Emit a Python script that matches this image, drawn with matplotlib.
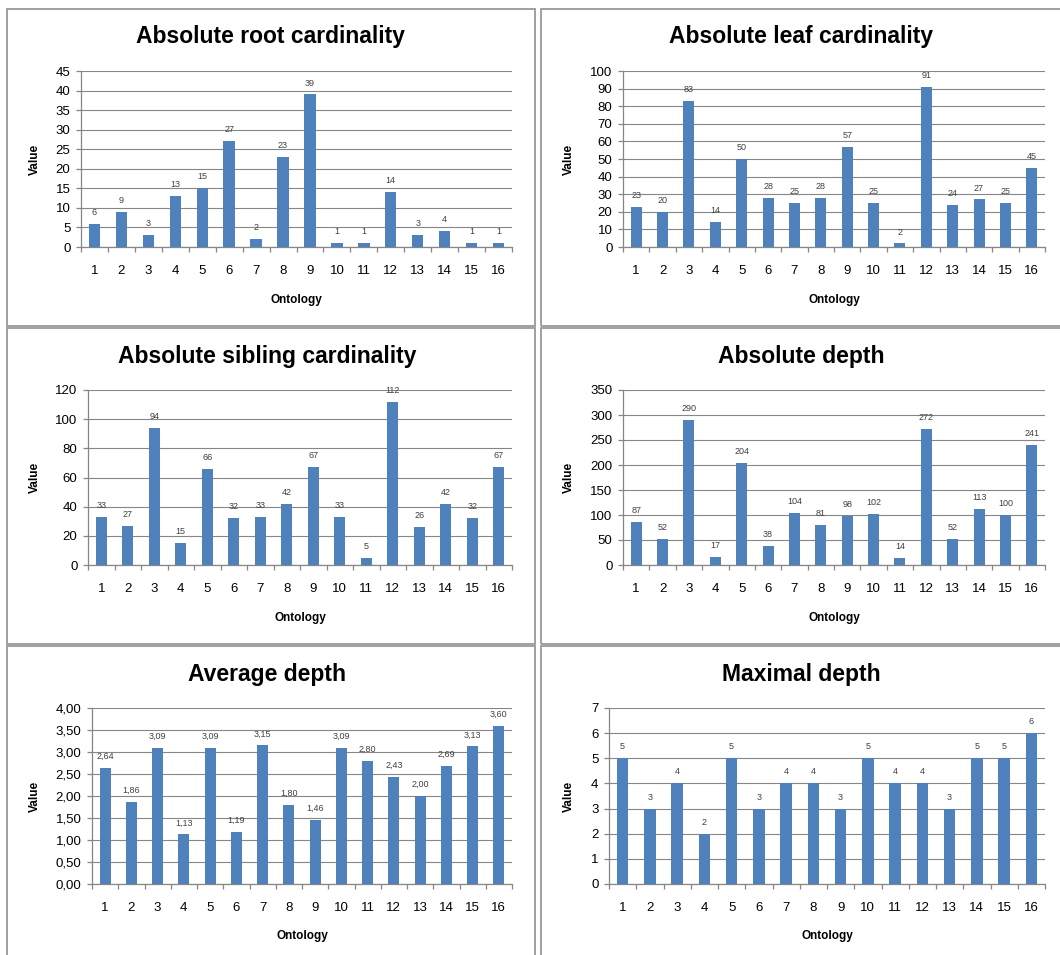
import numpy as np
import matplotlib
matplotlib.use("Agg")
import matplotlib.pyplot as plt
from matplotlib.patches import Rectangle
from matplotlib.ticker import FuncFormatter, MultipleLocator

plt.rcParams['font.family'] = ['Liberation Sans', 'DejaVu Sans']

ontology = np.arange(1, 17)

root_card = [6, 9, 3, 13, 15, 27, 2, 23, 39, 1, 1, 14, 3, 4, 1, 1]
leaf_card = [23, 20, 83, 14, 50, 28, 25, 28, 57, 25, 2, 91, 24, 27, 25, 45]
sibling_card = [33, 27, 94, 15, 66, 32, 33, 42, 67, 33, 5, 112, 26, 42, 32, 67]
abs_depth = [87, 52, 290, 17, 204, 38, 104, 81, 98, 102, 14, 272, 52, 113, 100, 241]
avg_depth = [2.64, 1.86, 3.09, 1.13, 3.09, 1.19, 3.15, 1.80, 1.46, 3.09, 2.80, 2.43,
             2.00, 2.69, 3.13, 3.60]
max_depth = [5, 3, 4, 2, 5, 3, 4, 4, 3, 5, 4, 4, 3, 5, 5, 6]

W, H = 1060, 955
BAR = '#4F81BD'
GRID = '#868686'

fig = plt.figure(figsize=(W / 100, H / 100), dpi=100)


def px_axes(x0, x1, y0, y1):
    return fig.add_axes([x0 / W, 1 - y1 / H, (x1 - x0) / W, (y1 - y0) / H])


def comma2(v, _=None):
    return f"{v:.2f}".replace('.', ',')


# panel frames
for (x0, x1, y0, y1) in [(7, 535, 9, 326), (541, 1075, 9, 326),
                         (7, 535, 328, 644), (541, 1075, 328, 644),
                         (7, 535, 646, 970), (541, 1075, 646, 970)]:
    fig.add_artist(Rectangle((x0 / W, 1 - y1 / H), (x1 - x0) / W, (y1 - y0) / H,
                             transform=fig.transFigure, fill=False,
                             edgecolor='#999999', linewidth=1.3))

panels = [
    ("Absolute root cardinality", root_card, 45, 5, (81, 512, 71, 247), 270, 37, 35, 300, None),
    ("Absolute leaf cardinality", leaf_card, 100, 10, (623, 1045, 71, 247), 801, 37, 569, 300, None),
    ("Absolute sibling cardinality", sibling_card, 120, 20, (88, 512, 390, 565), 267, 356, 35, 618, None),
    ("Absolute depth", abs_depth, 350, 50, (623, 1045, 390, 565), 801, 356, 569, 618, None),
    ("Average depth", avg_depth, 4.0, 0.5, (92, 512, 708, 884), 267, 674, 35, 936, comma2),
    ("Maximal depth", max_depth, 7, 1, (609, 1045, 708, 884), 801, 674, 569, 936, None),
]

for title, vals, ymax, step, box, tx, ty, vx, oy, fmt in panels:
    ax = px_axes(*box)
    ax.bar(ontology, vals, width=0.42, color=BAR, zorder=3)
    ax.set_xlim(0.5, 16.5)
    ax.set_ylim(0, ymax)
    ax.yaxis.set_major_locator(MultipleLocator(step))
    ax.grid(axis='y', color=GRID, linewidth=0.8, zorder=0)
    ax.set_axisbelow(True)
    for s in ['top', 'right']:
        ax.spines[s].set_visible(False)
    for s in ['left', 'bottom']:
        ax.spines[s].set_color(GRID)
        ax.spines[s].set_linewidth(0.9)
    ax.set_xticks(ontology)
    ax.set_xticks(np.arange(0.5, 17, 1), minor=True)
    ax.tick_params(axis='x', which='major', length=0, pad=13, labelsize=9.5)
    ax.tick_params(axis='x', which='minor', length=3.6, color=GRID, width=0.9)
    ax.tick_params(axis='y', length=3.6, color=GRID, width=0.9, pad=4, labelsize=9.5)
    if fmt:
        ax.yaxis.set_major_formatter(FuncFormatter(fmt))
        labels = [comma2(v) for v in vals]
    else:
        labels = [str(v) for v in vals]
    bars = ax.containers[0]
    ax.bar_label(bars, labels=labels, padding=5, fontsize=6.5, color='#404040')
    fig.text(tx / W, 1 - ty / H, title, ha='center', va='center',
             fontsize=16.5, fontweight='bold')
    fig.text(vx / W, 1 - ((box[2] + box[3]) / 2) / H, "Value", rotation=90,
             ha='center', va='center', fontsize=8.5, fontweight='bold')
    fig.text(((box[0] + box[1]) / 2) / W, 1 - oy / H, "Ontology",
             ha='center', va='center', fontsize=8.5, fontweight='bold')

fig.savefig("out.png", dpi=100)
